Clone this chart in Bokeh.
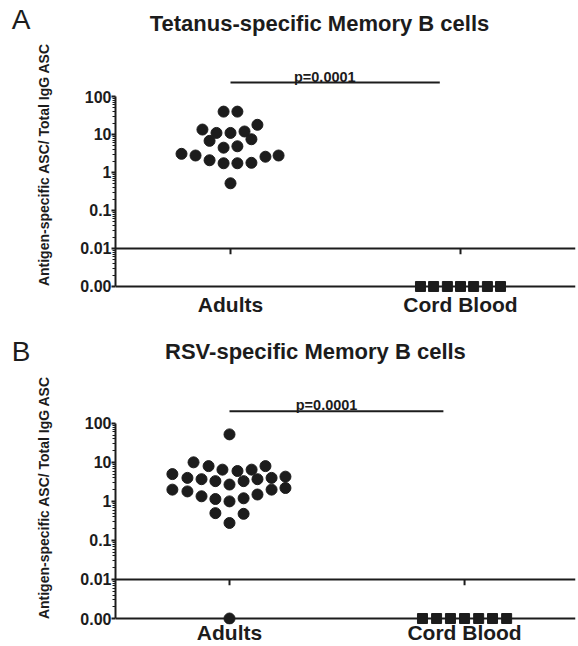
import numpy as np
from bokeh.plotting import figure
from bokeh.layouts import column
from bokeh.models import ColumnDataSource, Range1d, FixedTicker, Span, Label
from bokeh.embed import file_html
from bokeh.resources import INLINE

# ---------------- data ----------------
groups = ["Adults", "Cord Blood"]
group_pos = [1, 2]
tick_values = [0.001, 0.01, 0.1, 1, 10, 100]
tick_labels = ["0.00", "0.01", "0.1", "1", "10", "100"]
zero_pos = 0.001          # the "0.00" position on the broken log axis
break_pos = 0.01          # the axis-break line
p_value_text = "p=0.0001"

# Panel A: Tetanus-specific memory B cells
tet_adult_vals = [40, 40, 18, 13.5, 11, 11, 12, 6.8, 7.5, 4.5, 4.9,
                  3.1, 2.8, 2.1, 1.75, 1.75, 1.8, 2.6, 2.8, 0.52]
tet_adult_dx = [-0.03, 0.03, 0.117, -0.122, -0.061, 0.0, 0.061, -0.091, 0.091, -0.03, 0.03,
                -0.213, -0.152, -0.091, -0.03, 0.03, 0.091, 0.152, 0.209, 0.0]
tet_cord_vals = [0, 0, 0, 0, 0, 0, 0]
tet_cord_dx = [-0.174, -0.117, -0.057, 0.0, 0.057, 0.117, 0.174]

# Panel B: RSV-specific memory B cells
rsv_adult_vals = [52, 10, 8, 6.5, 6, 6.5, 8,
                  5, 4, 3.7, 3.3, 2.7, 3.3, 3.7, 4, 4.3,
                  2.0, 1.8, 1.35, 1.15, 1.0, 1.2, 1.5, 2.0, 2.2,
                  0.5, 0.48, 0.28, 0]
rsv_adult_dx = [0.0, -0.153, -0.089, -0.03, 0.034, 0.094, 0.153,
                -0.243, -0.179, -0.119, -0.06, 0.0, 0.06, 0.119, 0.179, 0.238,
                -0.243, -0.179, -0.119, -0.06, 0.0, 0.06, 0.119, 0.179, 0.238,
                -0.06, 0.06, 0.0, 0.0]
rsv_cord_vals = [0, 0, 0, 0, 0, 0, 0]
rsv_cord_dx = [-0.179, -0.119, -0.06, 0.0, 0.06, 0.119, 0.179]

# significance bar (x from Adults to its end)
tet_bar_x = [1, 1.91]
rsv_bar_x = [1, 1.91]

FONT = "Liberation Sans"
INK = "#1c1c1c"
W = 578
LEFT = 115     # frame left border (shared by all figures of the column)
RIGHT = 3


def make_header(letter, title, height, text_y, title_x):
    # data x == page x inside the frame, data y == pixels from the top
    h = figure(width=W, height=height, x_range=Range1d(LEFT, W - RIGHT),
               y_range=Range1d(height, 0), x_axis_location=None,
               output_backend="svg", toolbar_location=None,
               min_border_left=LEFT, min_border_right=RIGHT,
               min_border_top=0, min_border_bottom=0)
    h.outline_line_color = None
    h.grid.visible = False
    # panel letter drawn as the single tick label of an otherwise invisible axis
    ya = h.yaxis[0]
    ya.ticker = FixedTicker(ticks=[text_y], minor_ticks=[])
    ya.major_label_overrides = {text_y: letter}
    ya.axis_line_color = None
    ya.major_tick_line_color = None
    ya.minor_tick_line_color = None
    ya.major_tick_out = 0
    ya.minor_tick_out = 0
    ya.major_label_standoff = 85
    ya.major_label_text_font = FONT
    ya.major_label_text_font_style = "normal"
    ya.major_label_text_font_size = "28px"
    ya.major_label_text_color = INK
    h.add_layout(Label(x=title_x, y=text_y, text=title, text_align="center",
                       text_baseline="middle", text_font=FONT, text_font_style="bold",
                       text_font_size="22px", text_color=INK))
    return h


def make_panel(adult_vals, adult_dx, cord_vals, cord_dx, bar_x,
               height, x_rng, y_exp_rng, border_bottom,
               bar_exp, ptext_exp, ptext_x, xlabel_standoff):
    p = figure(width=W, height=height, y_axis_type="log",
               x_range=Range1d(*x_rng),
               y_range=Range1d(10 ** y_exp_rng[0], 10 ** y_exp_rng[1]),
               output_backend="svg", toolbar_location=None,
               min_border_left=LEFT, min_border_right=RIGHT,
               min_border_top=0, min_border_bottom=border_bottom)
    p.outline_line_color = None
    p.grid.visible = False
    p.background_fill_color = "white"
    p.border_fill_color = "white"

    # y axis
    ya = p.yaxis[0]
    minor = [k * 10.0 ** e for e in range(-3, 2) for k in range(2, 10)]
    ya.ticker = FixedTicker(ticks=tick_values, minor_ticks=minor)
    ya.major_label_overrides = dict(zip(tick_values, tick_labels))
    ya.bounds = (zero_pos, 100)
    ya.axis_line_width = 2
    ya.axis_line_color = INK
    ya.major_tick_line_width = 2
    ya.major_tick_line_color = INK
    ya.major_tick_out = 4
    ya.major_tick_in = 0
    ya.minor_tick_out = 3
    ya.minor_tick_in = 0
    ya.minor_tick_line_color = INK
    ya.major_label_standoff = 0
    ya.major_label_text_font = FONT
    ya.major_label_text_font_style = "bold"
    ya.major_label_text_font_size = "16px"
    ya.major_label_text_color = INK
    ya.axis_label = "Antigen-specific ASC/ Total IgG ASC"
    ya.axis_label_text_font = FONT
    ya.axis_label_text_font_style = "bold"
    ya.axis_label_text_font_size = "14px"
    ya.axis_label_text_color = INK
    ya.axis_label_standoff = 25

    # x axis: labels only, the 0.00 line is drawn as a span
    xa = p.xaxis[0]
    xa.ticker = FixedTicker(ticks=group_pos)
    xa.major_label_overrides = dict(zip(group_pos, groups))
    xa.axis_line_color = None
    xa.major_tick_out = 0
    xa.major_tick_in = 0
    xa.minor_tick_out = 0
    xa.minor_tick_in = 0
    xa.major_label_standoff = xlabel_standoff
    xa.major_label_text_font = FONT
    xa.major_label_text_font_style = "bold"
    xa.major_label_text_font_size = "21px"
    xa.major_label_text_color = INK

    p.add_layout(Span(location=zero_pos, dimension="width", line_color=INK, line_width=2))
    # axis-break line at 0.01 with small ticks under the groups
    p.add_layout(Span(location=break_pos, dimension="width", line_color=INK, line_width=2))
    p.segment(x0=group_pos, y0=[break_pos] * 2, x1=group_pos,
              y1=[break_pos * 10 ** -0.15] * 2, line_color=INK, line_width=2)

    # points
    av = np.array(adult_vals, dtype=float)
    src_a = ColumnDataSource(dict(x=group_pos[0] + np.array(adult_dx),
                                  y=np.where(av == 0, zero_pos, av)))
    p.scatter("x", "y", source=src_a, marker="circle", size=11,
              fill_color=INK, line_color=INK)
    cv = np.array(cord_vals, dtype=float)
    src_c = ColumnDataSource(dict(x=group_pos[1] + np.array(cord_dx),
                                  y=np.where(cv == 0, zero_pos, cv)))
    p.scatter("x", "y", source=src_c, marker="square", size=10,
              fill_color=INK, line_color=INK)

    # significance bar + p value
    p.line(x=bar_x, y=[10 ** bar_exp] * 2, line_color=INK, line_width=2)
    p.add_layout(Label(x=ptext_x, y=10 ** ptext_exp, text=p_value_text,
                       text_align="center", text_baseline="alphabetic",
                       text_font=FONT, text_font_style="bold",
                       text_font_size="14.5px", text_color=INK))
    return p


hA = make_header("A", "Tetanus-specific Memory B cells", height=36, text_y=22.5, title_x=319)
pA = make_panel(tet_adult_vals, tet_adult_dx, tet_cord_vals, tet_cord_dx, tet_bar_x,
                height=284, x_rng=(0.5, 2.5), y_exp_rng=(-3.158, 3.579), border_bottom=28,
                bar_exp=2.368, ptext_exp=2.526, ptext_x=1.41, xlabel_standoff=0)

hB = make_header("B", "RSV-specific Memory  B cells", height=50, text_y=31, title_x=318)
pB = make_panel(rsv_adult_vals, rsv_adult_dx, rsv_cord_vals, rsv_cord_dx, rsv_bar_x,
                height=276, x_rng=(0.515, 2.472), y_exp_rng=(-3.153, 3.352), border_bottom=21,
                bar_exp=2.306, ptext_exp=2.46, ptext_x=1.413, xlabel_standoff=-4)

layout = column(hA, pA, hB, pB, spacing=0)
open("out.html", "w").write(file_html(layout, INLINE))
